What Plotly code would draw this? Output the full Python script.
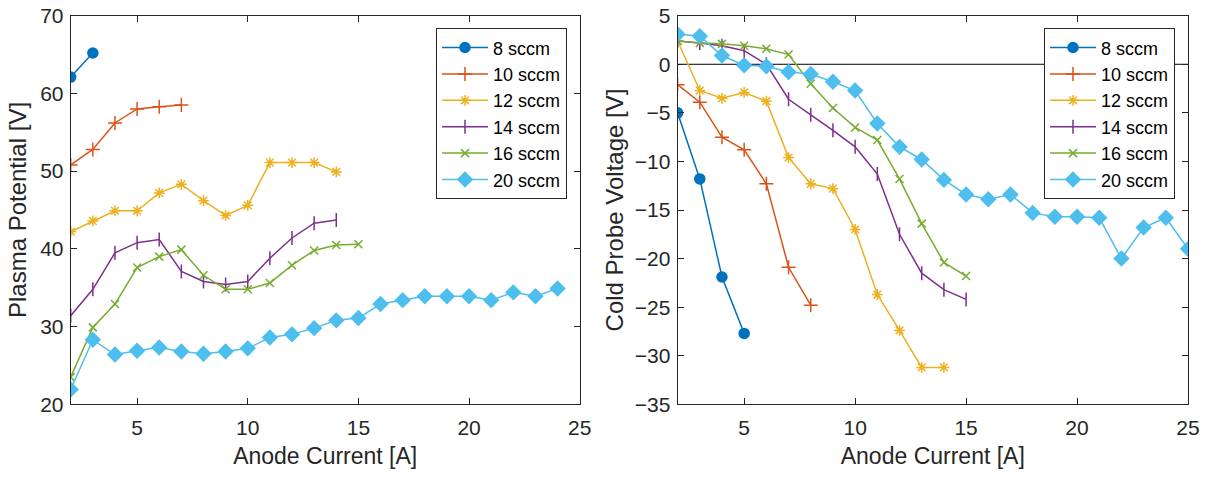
import plotly.graph_objects as go

# ---------------- data ----------------
series_names = ["8 sccm", "10 sccm", "12 sccm", "14 sccm", "16 sccm", "20 sccm"]

# Plasma potential [V] vs anode current [A]
pp_x_8 = [2, 3]
pp_y_8 = [62.1, 65.2]
pp_x_10 = [2, 3, 4, 5, 6, 7]
pp_y_10 = [50.8, 52.8, 56.2, 58.0, 58.3, 58.5]
pp_x_12 = [2, 3, 4, 5, 6, 7, 8, 9, 10, 11, 12, 13, 14]
pp_y_12 = [42.2, 43.6, 44.9, 44.9, 47.2, 48.3, 46.2, 44.3, 45.6, 51.1, 51.1, 51.1, 49.9]
pp_x_14 = [2, 3, 4, 5, 6, 7, 8, 9, 10, 11, 12, 13, 14]
pp_y_14 = [31.4, 34.8, 39.5, 40.8, 41.2, 37.1, 35.8, 35.4, 35.8, 38.8, 41.4, 43.3, 43.7]
pp_x_16 = [2, 3, 4, 5, 6, 7, 8, 9, 10, 11, 12, 13, 14, 15]
pp_y_16 = [23.5, 29.9, 32.9, 37.6, 39.0, 39.9, 36.6, 34.8, 34.8, 35.6, 37.9, 39.8, 40.5, 40.6]
pp_x_20 = list(range(2, 25))
pp_y_20 = [21.9, 28.3, 26.4, 26.9, 27.3, 26.8, 26.5, 26.8, 27.2, 28.6, 29.0, 29.8, 30.8,
           31.1, 32.9, 33.4, 33.9, 33.9, 33.9, 33.4, 34.4, 33.9, 34.9]

# Cold probe voltage [V] vs anode current [A]
cp_x_8 = [2, 3, 4, 5]
cp_y_8 = [-5.0, -11.8, -21.9, -27.7]
cp_x_10 = [2, 3, 4, 5, 6, 7, 8]
cp_y_10 = [-2.1, -3.9, -7.5, -8.8, -12.3, -20.9, -24.8]
cp_x_12 = [2, 3, 4, 5, 6, 7, 8, 9, 10, 11, 12, 13, 14]
cp_y_12 = [2.4, -2.7, -3.5, -2.9, -3.8, -9.6, -12.3, -12.8, -17.0, -23.7, -27.4, -31.2, -31.2]
cp_x_14 = [2, 3, 4, 5, 6, 7, 8, 9, 10, 11, 12, 13, 14, 15]
cp_y_14 = [2.4, 2.2, 1.9, 1.4, 0.0, -3.6, -5.2, -6.8, -8.5, -11.3, -17.5, -21.5, -23.2, -24.2]
cp_x_16 = [2, 3, 4, 5, 6, 7, 8, 9, 10, 11, 12, 13, 14, 15]
cp_y_16 = [2.4, 2.2, 2.1, 1.9, 1.6, 1.0, -2.0, -4.5, -6.5, -7.8, -11.8, -16.4, -20.4, -21.8]
cp_x_20 = list(range(2, 26))
cp_y_20 = [3.1, 2.9, 0.9, -0.1, -0.2, -0.8, -1.0, -1.8, -2.7, -6.1, -8.5, -9.8, -11.9,
           -13.4, -13.9, -13.4, -15.3, -15.7, -15.7, -15.8, -20.0, -16.8, -15.8, -19.0]

x_ticks = [5, 10, 15, 20, 25]
pp_y_ticks = [20, 30, 40, 50, 60, 70]
cp_y_ticks = [-35, -30, -25, -20, -15, -10, -5, 0, 5]

colors = ["#0072BD", "#D95319", "#EDB120", "#7E2F8E", "#77AC30", "#4DBEEE"]
symbols = ["circle", "cross-thin-open", "asterisk-open", "line-ns-open", "x-thin-open", "diamond"]
sizes = [10, 10, 9, 10, 8, 11]

pp_data = [(pp_x_8, pp_y_8), (pp_x_10, pp_y_10), (pp_x_12, pp_y_12),
           (pp_x_14, pp_y_14), (pp_x_16, pp_y_16), (pp_x_20, pp_y_20)]
cp_data = [(cp_x_8, cp_y_8), (cp_x_10, cp_y_10), (cp_x_12, cp_y_12),
           (cp_x_14, cp_y_14), (cp_x_16, cp_y_16), (cp_x_20, cp_y_20)]

W, H = 1207, 477
FONT = "Liberation Sans, Arial, Helvetica, sans-serif"
AX = "#262626"

fig = go.Figure()

for i, name in enumerate(series_names):
    for (xs, ys), xa, ya, lg in ((pp_data[i], "x", "y", "legend"),
                                 (cp_data[i], "x2", "y2", "legend2")):
        fig.add_trace(go.Scatter(
            x=xs, y=ys, name=name, mode="lines+markers",
            xaxis=xa, yaxis=ya, legend=lg,
            line=dict(color=colors[i], width=1.5),
            marker=dict(symbol=symbols[i], size=sizes[i], color=colors[i],
                        line=dict(color=colors[i], width=1.5)),
        ))

def px(v):
    return v / W

def py(v):
    return 1 - v / H

x1_dom = [px(70.7), px(579.7)]
x2_dom = [px(677.6), px(1188.0)]
y_dom = [py(404.3), py(15.7)]

axis_common = dict(
    showgrid=False, zeroline=False, showline=True, linecolor=AX, linewidth=1,
    mirror="ticks", ticks="inside", ticklen=6, tickcolor=AX, tickwidth=1,
    tickfont=dict(family=FONT, size=21, color=AX), automargin=False,
)
x_extra = dict(ticklabelstandoff=4)
y_extra = dict(ticklabelstandoff=2)

xtitle_font = dict(family=FONT, size=23, color=AX)
ytitle_font = dict(family=FONT, size=24, color=AX)

fig.update_layout(
    width=W, height=H,
    margin=dict(l=0, r=0, t=0, b=0),
    paper_bgcolor="white", plot_bgcolor="white",
    showlegend=True,
    xaxis=dict(domain=x1_dom, range=[2, 25], tickvals=x_ticks, anchor="y",
               title=dict(text="Anode Current [A]", font=xtitle_font, standoff=10),
               **axis_common, **x_extra),
    yaxis=dict(domain=y_dom, range=[20, 70], tickvals=pp_y_ticks, anchor="x",
               title=dict(text="Plasma Potential [V]", font=ytitle_font, standoff=6),
               **axis_common, **y_extra),
    xaxis2=dict(domain=x2_dom, range=[2, 25], tickvals=x_ticks, anchor="y2",
                title=dict(text="Anode Current [A]", font=xtitle_font, standoff=10),
                **axis_common, **x_extra),
    yaxis2=dict(domain=y_dom, range=[-35, 5], tickvals=cp_y_ticks, anchor="x2",
                title=dict(text="Cold Probe Voltage [V]", font=ytitle_font, standoff=4),
                **axis_common, **y_extra),
    legend=dict(x=px(567), xanchor="right",
                y=py(28.3), yanchor="top",
                bgcolor="white", bordercolor=AX, borderwidth=1,
                font=dict(family=FONT, size=18, color="#000000"),
                itemwidth=46, tracegroupgap=0),
    legend2=dict(x=px(1175), xanchor="right",
                 y=py(28.3), yanchor="top",
                 bgcolor="white", bordercolor=AX, borderwidth=1,
                 font=dict(family=FONT, size=18, color="#000000"),
                 itemwidth=46, tracegroupgap=0),
    shapes=[dict(type="line", xref="x2 domain", x0=0, x1=1, yref="y2", y0=0, y1=0,
                 line=dict(color="#000000", width=1), layer="below")],
)

fig.write_html("out.html")
